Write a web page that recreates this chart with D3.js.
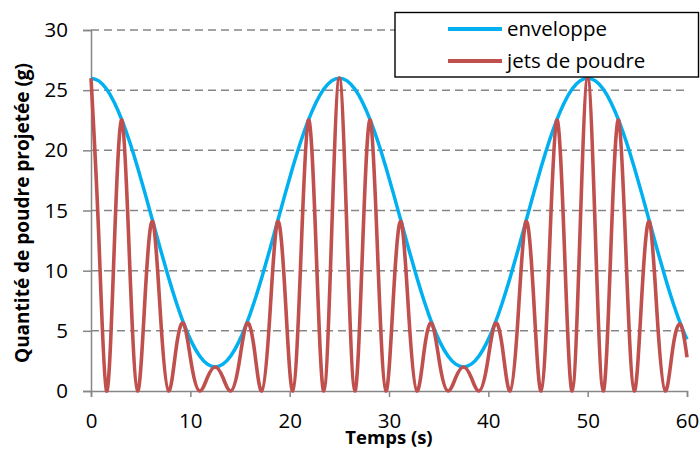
<!DOCTYPE html>
<html><head><meta charset="utf-8">
<script src="https://cdn.jsdelivr.net/npm/d3@7"></script>
<style>body{margin:0;background:#fff}svg{display:block}text{font-family:"Open Sans",sans-serif}</style>
</head><body><svg id="c" width="700" height="450"></svg>
<script>
const times = [0,0.781,1.563,2.344,3.125,3.906,4.688,5.469,6.25,7.031,7.813,8.594,9.375,10.156,10.938,11.719,12.5,13.281,14.063,14.844,15.625,16.406,17.188,17.969,18.75,19.531,20.313,21.094,21.875,22.656,23.438,24.219,25,25.781,26.563,27.344,28.125,28.906,29.688,30.469,31.25,32.031,32.813,33.594,34.375,35.156,35.938,36.719,37.5,38.281,39.063,39.844,40.625,41.406,42.188,42.969,43.75,44.531,45.313,46.094,46.875,47.656,48.438,49.219,50,50.781,51.563,52.344,53.125,53.906,54.688,55.469,56.25,57.031,57.813,58.594,59.375,60];
const enveloppe = [26,25.77,25.09,23.98,22.49,20.67,18.59,16.34,14,11.66,9.41,7.33,5.51,4.02,2.91,2.23,2,2.23,2.91,4.02,5.51,7.33,9.41,11.66,14,16.34,18.59,20.67,22.49,23.98,25.09,25.77,26,25.77,25.09,23.98,22.49,20.67,18.59,16.34,14,11.66,9.41,7.33,5.51,4.02,2.91,2.23,2,2.23,2.91,4.02,5.51,7.33,9.41,11.66,14,16.34,18.59,20.67,22.49,23.98,25.09,25.77,26,25.77,25.09,23.98,22.49,20.67,18.59,16.34,14,11.66,9.41,7.33,5.51,4.29];
const jets = [26,12.89,0,11.99,22.49,10.34,0,8.17,14,5.83,0,3.67,5.51,2.01,0,1.12,2,1.12,0,2.01,5.51,3.67,0,5.83,14,8.17,0,10.34,22.49,11.99,0,12.89,26,12.89,0,11.99,22.49,10.34,0,8.17,14,5.83,0,3.67,5.51,2.01,0,1.12,2,1.12,0,2.01,5.51,3.67,0,5.83,14,8.17,0,10.34,22.49,11.99,0,12.89,26,12.89,0,11.99,22.49,10.34,0,8.17,14,5.83,0,3.67,5.51,2.81];
const xTicks = [0,10,20,30,40,50,60];
const yTicks = [0,5,10,15,20,25,30];
const seriesNames = ["enveloppe","jets de poudre"];
const seriesColors = ["#00B0F0","#C0504D"];

const svg = d3.select("#c");
const x = d3.scaleLinear().domain([0,60]).range([91,687]);
const y = d3.scaleLinear().domain([0,30]).range([391,30]);
const grey = "#868686";
const font = "'Open Sans', sans-serif";

// gridlines
svg.append("g").selectAll("line").data(yTicks.filter(d=>d>0)).join("line")
  .attr("x1",x(0)).attr("x2",x(60)).attr("y1",d=>y(d)).attr("y2",d=>y(d))
  .attr("stroke",grey).attr("stroke-width",1.5).attr("stroke-dasharray","8,5");

// y axis
const ya = svg.append("g").attr("transform",`translate(${x(0)},0)`)
  .call(d3.axisLeft(y).tickValues(yTicks).tickSize(8).tickPadding(15));
ya.select(".domain").attr("stroke",grey).attr("stroke-width",1.5);
ya.selectAll(".tick line").attr("stroke",grey).attr("stroke-width",1.5);
ya.selectAll(".tick text").attr("font-size",20.5).attr("fill","#000").style("font-family",font);

// x axis
const xa = svg.append("g").attr("transform",`translate(0,${y(0)})`)
  .call(d3.axisBottom(x).tickValues(xTicks).tickSize(6).tickPadding(16));
xa.select(".domain").attr("stroke",grey).attr("stroke-width",1.5);
xa.selectAll(".tick line").attr("stroke",grey).attr("stroke-width",1.5);
xa.selectAll(".tick text").attr("font-size",20.5).attr("fill","#000").style("font-family",font);

// lines
const line = vals => d3.line().x((d,i)=>x(times[i])).y(d=>y(d)).curve(d3.curveNatural)(vals);
svg.append("path").attr("d",line(enveloppe)).attr("fill","none")
  .attr("stroke",seriesColors[0]).attr("stroke-width",3.5).attr("stroke-linejoin","round");
svg.append("path").attr("d",line(jets)).attr("fill","none")
  .attr("stroke",seriesColors[1]).attr("stroke-width",3.6).attr("stroke-linejoin","round");

// axis titles
svg.append("text").attr("x",389).attr("y",444).attr("text-anchor","middle")
  .attr("font-size",18.5).attr("font-weight","bold").text("Temps (s)");
svg.append("text").attr("transform","translate(29,213) rotate(-90)").attr("text-anchor","middle")
  .attr("font-size",19).attr("font-weight","bold").text("Quantité de poudre projetée (g)");

// legend
const lg = svg.append("g");
lg.append("rect").attr("x",395).attr("y",12.5).attr("width",303.5).attr("height",64.5)
  .attr("fill","#fff").attr("stroke","#000").attr("stroke-width",1.4);
seriesNames.forEach((n,i)=>{
  const yy = 29 + i*32;
  lg.append("line").attr("x1",448).attr("x2",502).attr("y1",yy).attr("y2",yy)
    .attr("stroke",seriesColors[i]).attr("stroke-width",4);
  lg.append("text").attr("x",507).attr("y",yy+7).attr("font-size",20.5).text(n);
});
</script></body></html>
